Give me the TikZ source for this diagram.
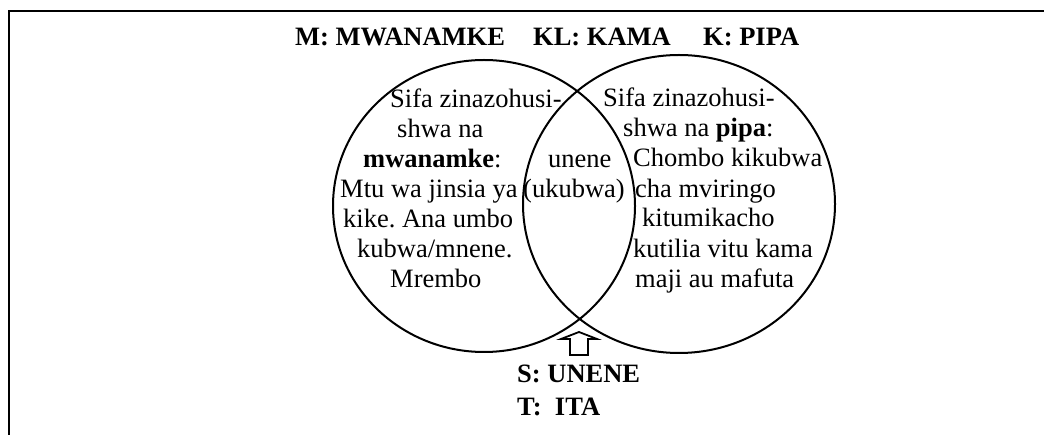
\documentclass[tikz,border=0pt]{standalone}
\usepackage{fontspec}
\setmainfont{Liberation Serif}
\frenchspacing
\begin{document}
\begin{tikzpicture}[x=1pt,y=-1pt,
  txt/.style={inner sep=0pt, anchor=base west, font=\fontsize{26.5}{30}\selectfont},
  btxt/.style={txt, font=\fontsize{26.5}{30}\selectfont\bfseries},
  frameline/.style={line width=2.6pt},
  ring/.style={line width=2pt},
  upmark/.style={line width=1.8pt, line join=miter}]
\useasboundingbox (0,0) rectangle (1044,435);
% frame
\draw[frameline] (9,435) -- (9,11) -- (1044,11);
% title
\node[btxt] (tM) at (295,46) {M: MWANAMKE};
\node[btxt] (tKL) at (533,46) {KL: KAMA};
\node[btxt] (tK) at (703,46) {K: PIPA};
% circles
\draw[ring] (484,206) ellipse [x radius=151pt, y radius=146pt];
\draw[ring] (679,204) ellipse [x radius=156pt, y radius=149pt];
% left text
\node[txt] (l1) at (390,108) {Sifa zinazohusi-};
\node[txt] (l2) at (397,138) {shwa na};
\node[txt] (l3) at (363,168) {\textbf{mwanamke}:};
\node[txt] (l4) at (340,198) {Mtu wa jinsia ya};
\node[txt] (l5) at (343,228) {kike. Ana umbo};
\node[txt] (l6) at (357,258) {kubwa/mnene.};
\node[txt] (l7) at (390,288) {Mrembo};
% middle text
\node[txt] (m1) at (548,168) {unene};
\node[txt] (m2) at (523,198) {(ukubwa)};
% right text
\node[txt] (r1) at (603,107) {Sifa zinazohusi-};
\node[txt] (r2) at (623,137) {shwa na \textbf{pipa}:};
\node[txt] (r3) at (633,167) {Chombo kikubwa};
\node[txt] (r4) at (635,198) {cha mviringo};
\node[txt] (r5) at (642,227) {kitumikacho};
\node[txt] (r6) at (633,258) {kutilia vitu kama};
\node[txt] (r7) at (635,288) {maji au mafuta};
% up arrow
\draw[upmark] (579,332) -- (597,339) -- (588,339) -- (588,355) -- (570,355) -- (570,339) -- (561,339) -- cycle;
% bottom labels
\node[btxt] (s) at (517,383) {S: UNENE};
\node[btxt] (t) at (517,415) {T:\ \ ITA};
\end{tikzpicture}
\end{document}
